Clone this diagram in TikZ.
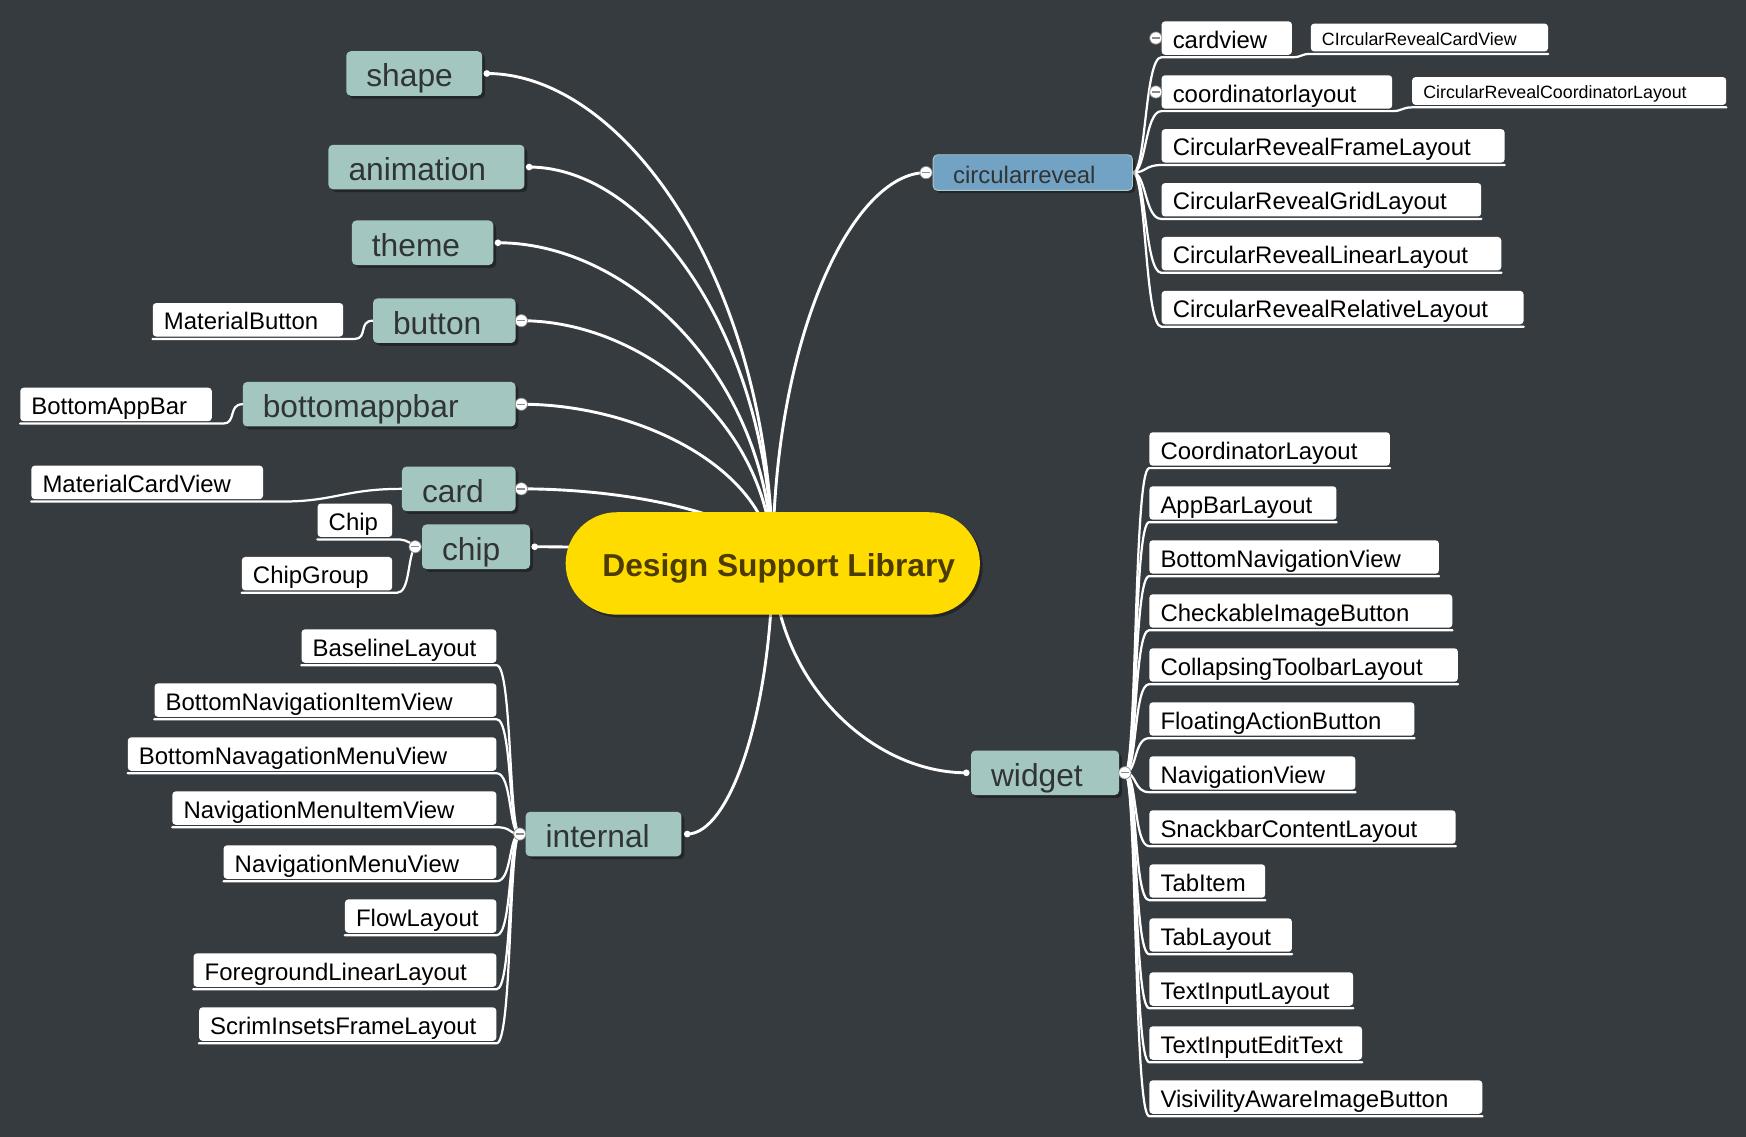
\documentclass[tikz,border=0pt]{standalone}
\usepackage{fontspec}
\setmainfont{Liberation Sans}
\usetikzlibrary{shadows}
\definecolor{bgc}{RGB}{54,59,63}
\definecolor{mainfill}{RGB}{164,198,192}
\definecolor{maintext}{RGB}{48,52,52}
\definecolor{crfill}{RGB}{115,163,196}
\definecolor{crborder}{RGB}{170,200,200}
\definecolor{dslfill}{RGB}{255,220,0}
\definecolor{dsltext}{RGB}{77,60,0}
\definecolor{markgray}{RGB}{140,140,140}
\newcommand\fmain{\fontsize{28.5pt}{32pt}\selectfont}
\newcommand\fchild{\fontsize{21.5pt}{24pt}\selectfont}
\newcommand\fsmall{\fontsize{16pt}{18pt}\selectfont}
\pgfdeclarelayer{back}
\pgfsetlayers{back,main}
\tikzset{
  lbl/.style n args={2}{execute at begin node={\hbox to #1\bgroup\hskip #2\relax}, execute at end node={\hfil\egroup}},
  shad/.style={drop shadow={shadow xshift=2.5pt,shadow yshift=-2.5pt,fill=black,opacity=0.35}},
  mainnode/.style={fill=mainfill, text=maintext, rounded corners=4pt, inner sep=0pt, minimum height=40pt, text height=32pt, text depth=8pt, font=\fmain, shad, lbl={#1}{18pt}},
  crnode/.style={fill=crfill, draw=crborder, line width=0.8pt, text=maintext, rounded corners=4pt, inner sep=0pt, minimum height=32pt, text height=25.5pt, text depth=6.5pt, font=\fchild, shad, lbl={#1}{18pt}},
  leaf/.style={fill=white, text=black, rounded corners=3pt, inner sep=0pt, minimum height=30pt, text height=24pt, text depth=6pt, font=\fchild, lbl={#1}{10pt}},
  smallleaf/.style={fill=white, text=black, rounded corners=3pt, inner sep=0pt, minimum height=25pt, text height=19.5pt, text depth=5.5pt, font=\fsmall, lbl={#1}{10pt}},
  dslnode/.style={fill=dslfill, text=dsltext, rounded corners=46pt, inner sep=0pt, minimum height=92pt, text height=57.5pt, text depth=34.5pt, font=\fmain\bfseries, shad, lbl={#1}{33pt}},
  mline/.style={draw=white, line width=2.6pt, line cap=round},
  cline/.style={draw=white, line width=2pt, line cap=round},
  collapse/.pic={\fill[white] (0,0) circle (5.5pt); \draw[markgray, line width=0.6pt] (0,0) circle (5.5pt); \draw[markgray, line width=1.2pt] (-3.5pt,0) -- (3.5pt,0);}
}
\begin{document}
\begin{tikzpicture}[x=1pt,y=-1pt]
\useasboundingbox (0,0) rectangle (1568,1021);
% central and main nodes
\node[dslnode=372pt] (dsl) at (694,506) {Design Support Library};
\node[mainnode=122pt] (shape) at (372,66) {shape};
\node[mainnode=176pt] (anim) at (383,150) {animation};
\node[mainnode=127pt] (theme) at (379.5,218) {theme};
\node[mainnode=128pt] (button) at (399,288) {button};
\node[mainnode=245pt] (bab) at (340.5,363) {bottomappbar};
\node[mainnode=102pt] (card) at (412,439) {card};
\node[mainnode=97pt] (chip) at (427.5,491) {chip};
\node[mainnode=140pt] (internal) at (542,749) {internal};
\node[mainnode=133pt] (widget) at (938.5,694) {widget};
\node[crnode=179pt] (crv) at (927.5,155) {circularreveal};
% left leaves
\node[leaf=171pt, anchor=north west] (mbtn) at (137,272) {MaterialButton};
\node[leaf=172pt, anchor=north west] (bapp) at (18,348) {BottomAppBar};
\node[leaf=208pt, anchor=north west] (mcv) at (28,418) {MaterialCardView};
\node[leaf=67pt, anchor=north west] (chp) at (285,452) {Chip};
\node[leaf=135pt, anchor=north west] (cgrp) at (217,500) {ChipGroup};
% circularreveal leaves
\foreach \t/\w [count=\k] in {cardview/117pt, coordinatorlayout/207pt, CircularRevealFrameLayout/308pt, CircularRevealGridLayout/287pt, CircularRevealLinearLayout/305pt, CircularRevealRelativeLayout/325pt}
  \node[leaf=\w, anchor=north west] (c\k) at (1043,{19+48.4*(\k-1)}) {\t};
\node[smallleaf=213pt, anchor=north west] (cs1) at (1177,21) {CIrcularRevealCardView};
\node[smallleaf=282pt, anchor=north west] (cs2) at (1268,69) {CircularRevealCoordinatorLayout};
% widget leaves
\foreach \t/\w [count=\k from 0] in {CoordinatorLayout/216pt, AppBarLayout/168pt, BottomNavigationView/260pt, CheckableImageButton/272pt, CollapsingToolbarLayout/277pt, FloatingActionButton/238pt, NavigationView/185pt, SnackbarContentLayout/275pt, TabItem/104pt, TabLayout/128pt, TextInputLayout/183pt, TextInputEditText/191pt, VisivilityAwareImageButton/299pt}
  \node[leaf=\w, anchor=north west] (w\k) at (1032,{388+48.5*\k}) {\t};
% internal leaves
\foreach \t/\w [count=\k from 0] in {BaselineLayout/175pt, BottomNavigationItemView/307pt, BottomNavagationMenuView/331pt, NavigationMenuItemView/291pt, NavigationMenuView/245pt, FlowLayout/136pt, ForegroundLinearLayout/272pt, ScrimInsetsFrameLayout/267pt}
  \node[leaf=\w, anchor=north east] (i\k) at (446,{565+48.5*\k}) {\t};
% marker coordinates
\coordinate (shapeE) at ([xshift=4pt]shape.east);
\coordinate (animE) at ([xshift=4pt]anim.east);
\coordinate (themeE) at ([xshift=4pt]theme.east);
\coordinate (buttonC) at ([xshift=5pt]button.east);
\coordinate (babC) at ([xshift=5pt]bab.east);
\coordinate (cardC) at ([xshift=5pt]card.east);
\coordinate (chipE) at ([xshift=4pt]chip.east);
\coordinate (chipW) at ([xshift=-6pt]chip.west);
\coordinate (internalE) at ([xshift=5pt]internal.east);
\coordinate (internalC) at ([xshift=-5pt]internal.west);
\coordinate (widgetW) at ([xshift=-4pt]widget.west);
\coordinate (widgetC) at ([xshift=5pt]widget.east);
\coordinate (crvC) at ([xshift=-6pt]crv.west);
\coordinate (c1C) at ([xshift=-5pt]c1.west);
\coordinate (c2C) at ([xshift=-5pt]c2.west);
\begin{pgfonlayer}{back}
\fill[bgc] (0,0) rectangle (1568,1021);
% hub connectors
\draw[mline] (shapeE) .. controls (560,66) and (692,251) .. (dsl.center);
\draw[mline] (animE) .. controls (580,150) and (692,300) .. (dsl.center);
\draw[mline] (themeE) .. controls (566,218) and (692,339) .. (dsl.center);
\draw[mline] (buttonC) .. controls (576,288) and (692,380) .. (dsl.center);
\draw[mline] (babC) .. controls (576,363) and (692,423) .. (dsl.center);
\draw[mline] (cardC) .. controls (576,439) and (692,467) .. (dsl.center);
\draw[mline] (chipE) .. controls (580,491) and (692,500) .. (dsl.center);
\draw[mline] (internalE) .. controls (654,749) and (692,646) .. (dsl.center);
\draw[mline] (widgetW) .. controls (784,694) and (698,614) .. (dsl.center);
\draw[mline] (crvC) .. controls (766,155) and (694,302) .. (dsl.center);
% left leaves connectors
\draw[cline] (button.west) .. controls +(-13,0) and +(12,0) .. ([xshift=10pt,yshift=-2pt]mbtn.south east) -- ([yshift=-2pt]mbtn.south west);
\draw[cline] (bab.west) .. controls +(-13,0) and +(12,0) .. ([xshift=10pt,yshift=-2pt]bapp.south east) -- ([yshift=-2pt]bapp.south west);
\draw[cline] (card.west) .. controls +(-51,0) and +(47,0) .. ([xshift=17pt,yshift=-2pt]mcv.south east) -- ([yshift=-2pt]mcv.south west);
\draw[cline] (chipW) .. controls +(-7,-6) and +(8,0) .. ([xshift=2pt,yshift=-2pt]chp.south east) -- ([yshift=-2pt]chp.south west);
\draw[cline] (chipW) .. controls +(-7,9) and +(12,0) .. ([xshift=4pt,yshift=-2pt]cgrp.south east) -- ([yshift=-2pt]cgrp.south west);
% circularreveal connectors
\foreach \k in {1,...,6}
  \draw[cline] (crv.east) .. controls +(12,0) and +(-15,0) .. ([yshift=-2pt]c\k.south west) -- ([yshift=-2pt]c\k.south east);
\draw[cline] ([yshift=-2pt]c1.south east) .. controls +(9,0) and +(-9,0) .. ([yshift=-2pt]cs1.south west) -- ([yshift=-2pt]cs1.south east);
\draw[cline] ([yshift=-2pt]c2.south east) .. controls +(9,0) and +(-9,0) .. ([yshift=-2pt]cs2.south west) -- ([yshift=-2pt]cs2.south east);
% widget connectors
\foreach \k in {0,...,12}
  \draw[cline] (widgetC) .. controls +(11,0) and +(-14,0) .. ([yshift=-2pt]w\k.south west) -- ([yshift=-2pt]w\k.south east);
% internal connectors
\foreach \k in {0,...,7}
  \draw[cline] (internalC) .. controls +(-10,0) and +(14,0) .. ([yshift=-2pt]i\k.south east) -- ([yshift=-2pt]i\k.south west);
\end{pgfonlayer}
% markers
\foreach \p in {shapeE,animE,themeE,chipE,internalE,widgetW}
  \fill[white] (\p) circle (3pt);
\foreach \p in {buttonC,babC,cardC,chipW,internalC,widgetC,crvC,c1C,c2C}
  \pic at (\p) {collapse};
\end{tikzpicture}
\end{document}
